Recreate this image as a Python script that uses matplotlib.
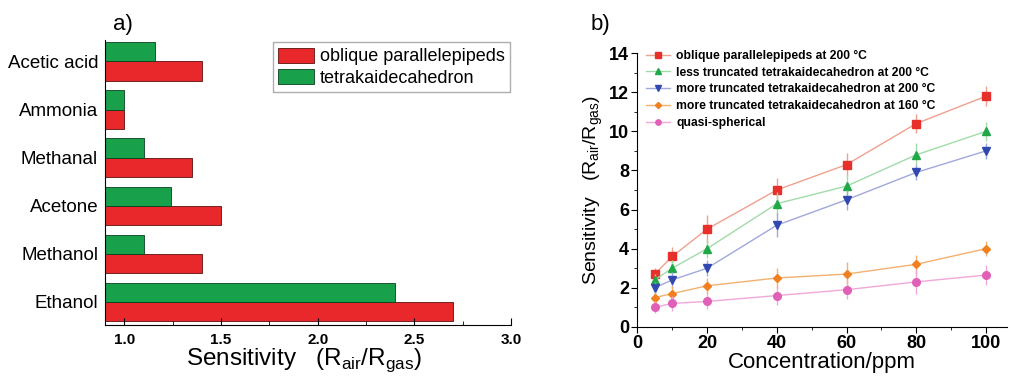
import matplotlib.pyplot as plt
from matplotlib.ticker import MultipleLocator
import numpy as np

plt.rcParams['font.family'] = ['Liberation Sans', 'DejaVu Sans']
plt.rcParams['mathtext.fontset'] = 'custom'
plt.rcParams['mathtext.rm'] = 'Liberation Sans'

# panel a
gases = ['Ethanol', 'Methanol', 'Acetone', 'Methanal', 'Ammonia', 'Acetic acid']
oblique = [2.70, 1.40, 1.50, 1.35, 1.00, 1.40]
tetra = [2.40, 1.10, 1.24, 1.10, 1.00, 1.16]

# panel b
conc = [5, 10, 20, 40, 60, 80, 100]
s_oblique200 = [2.7, 3.6, 5.0, 7.0, 8.3, 10.4, 11.8]
s_less200 = [2.4, 3.0, 4.0, 6.3, 7.2, 8.8, 10.0]
s_more200 = [2.0, 2.4, 3.0, 5.2, 6.5, 7.9, 9.0]
s_more160 = [1.5, 1.7, 2.1, 2.5, 2.7, 3.2, 4.0]
s_quasi = [1.0, 1.2, 1.3, 1.6, 1.9, 2.3, 2.65]
e_oblique200 = [0.3, 0.5, 0.7, 0.6, 0.6, 0.5, 0.5]
e_less200 = [0.3, 0.4, 0.5, 0.6, 0.6, 0.6, 0.5]
e_more200 = [0.3, 0.4, 0.4, 0.6, 0.5, 0.4, 0.4]
e_more160 = [0.3, 0.4, 0.4, 0.5, 0.6, 0.5, 0.4]
e_quasi = [0.3, 0.4, 0.4, 0.5, 0.5, 0.6, 0.5]

sens_label = 'Sensitivity   (R$_{\\mathrm{air}}$/R$_{\\mathrm{gas}}$)'

fig = plt.figure(figsize=(10.1, 3.77), dpi=100)

ax1 = fig.add_axes([0.104, 0.138, 0.402, 0.756])
y = np.arange(len(gases))
h = 0.4
ax1.barh(y - h / 2, oblique, height=h, color='#e8282a', edgecolor='#5a1010', linewidth=0.6,
         label='oblique parallelepipeds')
ax1.barh(y + h / 2, tetra, height=h, color='#18a04a', edgecolor='#0a4020', linewidth=0.6,
         label='tetrakaidecahedron')
ax1.set_xlim(0.9, 3.0)
ax1.set_ylim(-0.478, 5.447)
ax1.set_yticks(y)
ax1.set_yticklabels(gases, fontsize=13.5)
ax1.set_xticks([1.0, 1.5, 2.0, 2.5, 3.0])
ax1.set_xticklabels(['1.0', '1.5', '2.0', '2.5', '3.0'], fontsize=11, fontweight='bold')
ax1.xaxis.set_minor_locator(MultipleLocator(0.25))
ax1.spines['top'].set_visible(False)
ax1.spines['right'].set_visible(False)
ax1.tick_params(axis='y', length=0, pad=5)
ax1.tick_params(axis='x', which='major', length=5, direction='in', pad=6)
ax1.tick_params(axis='x', which='minor', length=3, direction='in')
ax1.set_xlabel(sens_label + '  ', fontsize=17.5, labelpad=-1)
ax1.legend(loc='upper right', fontsize=13, frameon=True,
           fancybox=False, edgecolor='#999999', borderaxespad=0.05, handlelength=2.0,
           handleheight=0.9, handletextpad=0.3, borderpad=0.3, labelspacing=0.2,
           bbox_to_anchor=(1.0, 0.995))
fig.text(0.112, 0.935, 'a)', fontsize=16, ha='left', va='center')

ax2 = fig.add_axes([0.631, 0.133, 0.366, 0.726])
series = [
    (s_oblique200, e_oblique200, '#e8302a', '#f0a090', 's', 'oblique parallelepipeds at 200 °C'),
    (s_less200, e_less200, '#20a848', '#a0dca8', '^', 'less truncated tetrakaidecahedron at 200 °C'),
    (s_more200, e_more200, '#3048b0', '#a0a8dc', 'v', 'more truncated tetrakaidecahedron at 200 °C'),
    (s_more160, e_more160, '#f08020', '#f4b070', 'D', 'more truncated tetrakaidecahedron at 160 °C'),
    (s_quasi, e_quasi, '#e060b8', '#f0a8d8', 'o', 'quasi-spherical'),
]
for vals, errs, mc, lc, mk, lab in series:
    ax2.errorbar(conc, vals, yerr=errs, fmt='none', ecolor=lc, elinewidth=1.0, capsize=0)
    ax2.plot(conc, vals, '-', color=lc, linewidth=1.0, marker=mk, markersize=5.5 if mk != 'D' else 4.5,
             markerfacecolor=mc, markeredgecolor=mc, label=lab)
ax2.set_xlim(0, 106)
ax2.set_ylim(0, 14)
ax2.set_xticks([0, 20, 40, 60, 80, 100])
ax2.set_yticks([0, 2, 4, 6, 8, 10, 12, 14])
ax2.xaxis.set_minor_locator(MultipleLocator(10))
ax2.yaxis.set_minor_locator(MultipleLocator(1))
for lab in ax2.get_xticklabels() + ax2.get_yticklabels():
    lab.set_fontweight('bold')
    lab.set_fontsize(13)
ax2.spines['top'].set_visible(False)
ax2.spines['right'].set_visible(False)
ax2.tick_params(which='major', length=4, direction='out', pad=2)
ax2.tick_params(which='minor', length=2, direction='out')
ax2.set_xlabel('Concentration/ppm', fontsize=16, labelpad=0)
ax2.set_ylabel(sens_label, fontsize=14, labelpad=3)
leg = ax2.legend(loc='upper left', frameon=False, prop={'weight': 'bold', 'size': 8.7},
                 handlelength=2.0, handletextpad=0.5, labelspacing=0.4, borderaxespad=0.0,
                 bbox_to_anchor=(0.01, 1.03), markerscale=0.7)
fig.text(0.585, 0.935, 'b)', fontsize=16, ha='left', va='center')

plt.savefig('out.png', dpi=100)
